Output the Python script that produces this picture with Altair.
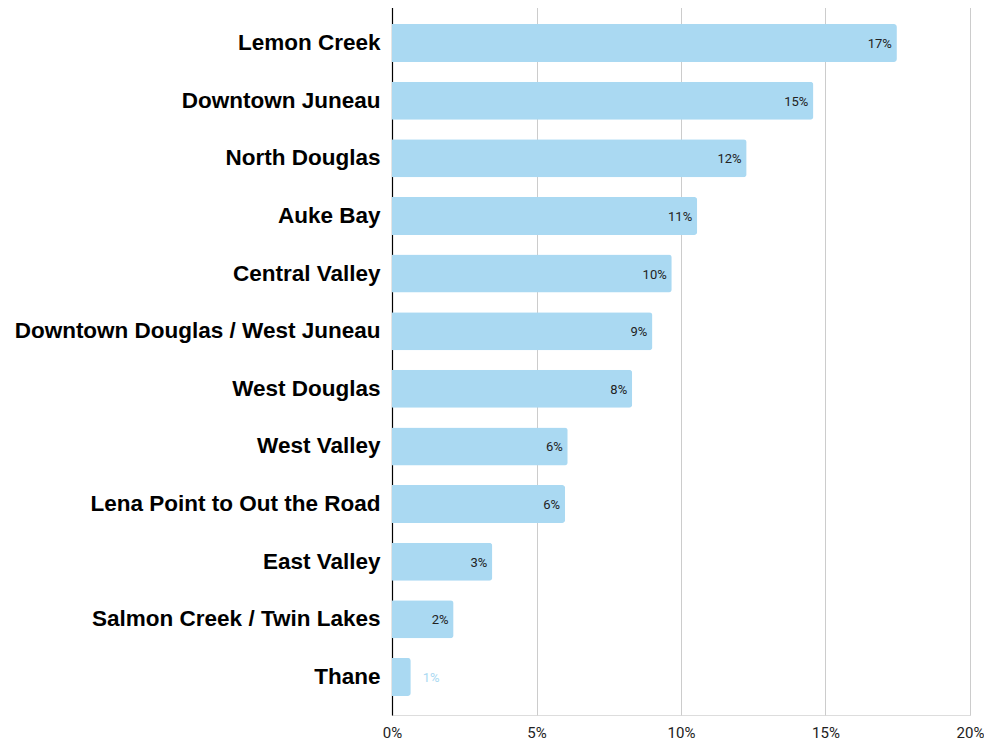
import altair as alt
import pandas as pd

areas = ["Lemon Creek", "Downtown Juneau", "North Douglas", "Auke Bay", "Central Valley",
         "Downtown Douglas / West Juneau", "West Douglas", "West Valley",
         "Lena Point to Out the Road", "East Valley", "Salmon Creek / Twin Lakes", "Thane"]
shares = [0.1747, 0.1458, 0.1227, 0.1056, 0.0968, 0.0901, 0.0831, 0.0608, 0.0599, 0.0347, 0.0213, 0.0065]
x_ticks = [0, 0.05, 0.10, 0.15, 0.20]

df = pd.DataFrame({"area": areas, "share": shares})

bar_color = "#aad9f2"

y_enc = alt.Y("area:N", sort=areas, title=None,
              scale=alt.Scale(paddingInner=0.34, paddingOuter=0.33),
              axis=alt.Axis(labelFont="Liberation Sans", labelFontWeight="bold",
                            labelFontSize=22.5, labelColor="#000000", ticks=False,
                            labelPadding=12, domain=True, domainColor="#000000",
                            domainWidth=1.2, grid=False, labelLimit=500))
x_enc = alt.X("share:Q", title=None,
              scale=alt.Scale(domain=[0, 0.2], nice=False),
              axis=alt.Axis(values=x_ticks, format=".0%", labelFont="Roboto",
                            labelFontSize=15, labelColor="#222222", ticks=False,
                            domain=False, grid=True, gridColor="#cccccc",
                            labelPadding=10, labelFlush=False))

bars = alt.Chart(df).mark_bar(color=bar_color, cornerRadiusEnd=3).encode(x=x_enc, y=y_enc)

inside = alt.Chart(df).transform_filter("datum.share >= 0.015").mark_text(
    align="right", baseline="middle", dx=-5, dy=1, font="Roboto", fontSize=13, color="#222222"
).encode(x="share:Q", y=alt.Y("area:N", sort=areas), text=alt.Text("share:Q", format=".0%"))

outside = alt.Chart(df).transform_filter("datum.share < 0.015").mark_text(
    align="left", baseline="middle", dx=12, dy=1, font="Roboto", fontSize=13, color=bar_color
).encode(x="share:Q", y=alt.Y("area:N", sort=areas), text=alt.Text("share:Q", format=".0%"))

chart = alt.layer(bars, inside, outside).properties(
    width=578, height=710,
    padding={"top": -3, "left": 6, "right": 0, "bottom": 0}
).configure_view(stroke=None).configure(background="#ffffff")

chart.save("out.html", embed_options={"renderer": "svg", "actions": False})
